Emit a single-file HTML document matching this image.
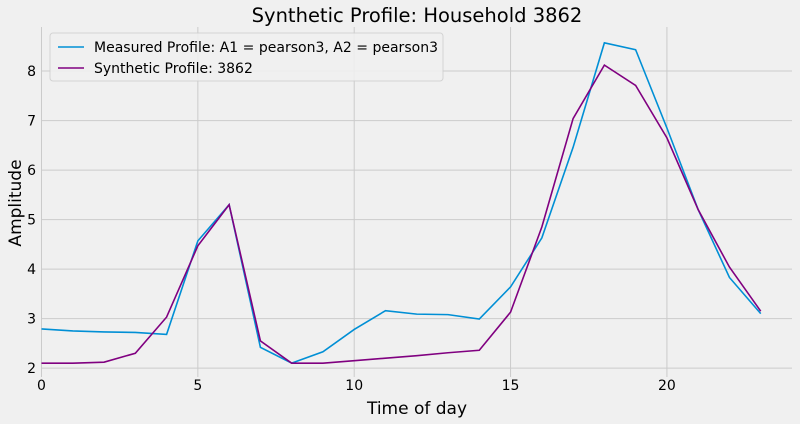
<!DOCTYPE html>
<html><head><meta charset="utf-8"><style>
body{margin:0;background:#f0f0f0;}
svg{display:block;font-family:"DejaVu Sans","Liberation Sans",sans-serif;}
</style></head><body>
<svg id="chart" width="800" height="424" viewBox="0 0 800 424">
<rect width="800" height="424" fill="#f0f0f0"/>
<g id="grid"></g><g id="series"></g><g id="ticks"></g>
<text x="417" y="22" font-size="19.5" text-anchor="middle" fill="#000">Synthetic Profile: Household 3862</text>
<text x="417" y="414" font-size="17" text-anchor="middle">Time of day</text>
<text transform="translate(21,203) rotate(-90)" font-size="17" text-anchor="middle">Amplitude</text>
<g>
<rect x="50" y="33" width="393" height="48" rx="3" fill="#f0f0f0" stroke="#d0d0d0" opacity="0.9"/>
<line x1="58" y1="47" x2="84" y2="47" stroke="#008fd5" stroke-width="1.6"/>
<text x="94" y="52" font-size="14" textLength="344" lengthAdjust="spacingAndGlyphs">Measured Profile: A1 = pearson3, A2 = pearson3</text>
<line x1="58" y1="68" x2="84" y2="68" stroke="#800080" stroke-width="1.6"/>
<text x="94" y="73" font-size="14">Synthetic Profile: 3862</text>
</g>
</svg>
<script>
const hours=[0,1,2,3,4,5,6,7,8,9,10,11,12,13,14,15,16,17,18,19,20,21,22,23];
const measured=[2.79,2.75,2.73,2.72,2.68,4.57,5.3,2.42,2.1,2.33,2.78,3.16,3.09,3.08,2.99,3.64,4.63,6.46,8.57,8.43,6.85,5.2,3.83,3.1];
const synthetic=[2.1,2.1,2.12,2.3,3.03,4.47,5.3,2.55,2.1,2.1,2.15,2.2,2.25,2.31,2.36,3.13,4.85,7.04,8.12,7.71,6.65,5.2,4.04,3.15];
const xTicks=[0,5,10,15,20];
const yTicks=[2,3,4,5,6,7,8];
const NS="http://www.w3.org/2000/svg";
const L=41.5,R=792,T=27,B=377;
const xMin=0,xMax=24,yMin=1.82,yMax=8.89;
const sx=v=>L+(v-xMin)/(xMax-xMin)*(R-L);
const sy=v=>B-(v-yMin)/(yMax-yMin)*(B-T);
function mk(tag,a,parent){const e=document.createElementNS(NS,tag);for(const k in a)e.setAttribute(k,a[k]);document.getElementById(parent).appendChild(e);return e;}
xTicks.forEach(t=>{
 const g=mk('line',{x1:sx(t),x2:sx(t),y1:T,y2:B,stroke:'#cbcbcb','stroke-width':1},'grid');
 
 
 const tx=mk('text',{x:sx(t),y:B+13,'font-size':14,'text-anchor':'middle',fill:'#000'},'ticks');
 tx.textContent=t;
 
 
});
yTicks.forEach(t=>{
 const g=mk('line',{x1:L,x2:R,y1:sy(t),y2:sy(t),stroke:'#cbcbcb','stroke-width':1},'grid');
 
 
 const tx=mk('text',{x:36,y:sy(t)+5,'font-size':14,'text-anchor':'end',fill:'#000'},'ticks');
 tx.textContent=t;
 
 
});
function line(vals,color,name){
 const p=mk('polyline',{points:vals.map((v,i)=>sx(hours[i])+','+sy(v)).join(' '),fill:'none',stroke:color,'stroke-width':1.6},'series');
 
 
}
line(measured,'#008fd5','measured-profile-line');
line(synthetic,'#800080','synthetic-profile-line');
</script>
</body></html>
